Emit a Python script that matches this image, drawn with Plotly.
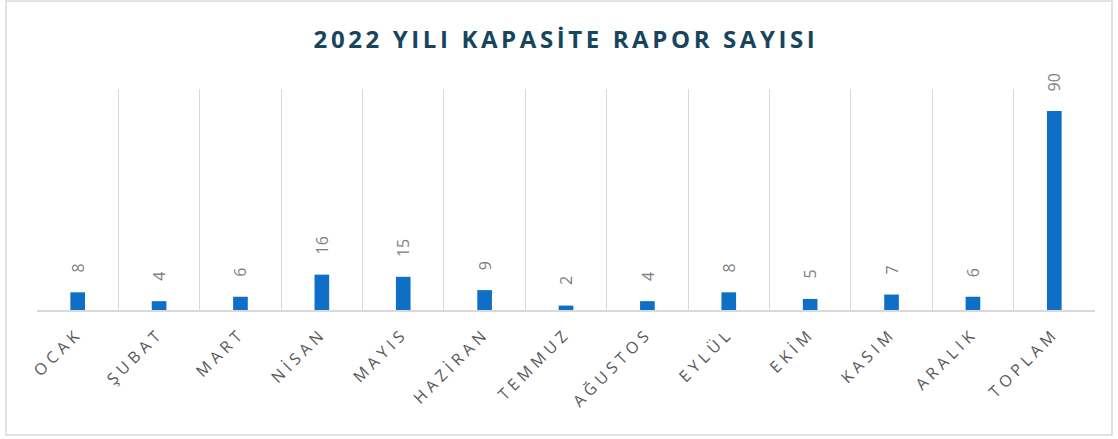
import plotly.graph_objects as go

months = ["OCAK", "ŞUBAT", "MART", "NİSAN", "MAYIS", "HAZİRAN", "TEMMUZ",
          "AĞUSTOS", "EYLÜL", "EKİM", "KASIM", "ARALIK", "TOPLAM"]
counts = [8, 4, 6, 16, 15, 9, 2, 4, 8, 5, 7, 6, 90]
title_text = "2022 YILI KAPASİTE RAPOR SAYISI"

W, H = 1118, 439
L, R, T, B = 37, 23, 89, 129
pw, ph = W - L - R, H - T - B

fig = go.Figure(go.Bar(
    x=months, y=counts, width=0.18,
    marker=dict(color="#0F6FC6", line=dict(width=0)),
    hoverinfo="x+y",
))

for m, c in zip(months, counts):
    fig.add_annotation(
        x=m, y=c, text=str(c), textangle=-90, showarrow=False,
        xanchor="center", yanchor="bottom", yshift=18,
        font=dict(family="Open Sans, sans-serif", size=16, color="#808080"),
    )


def px2paper_x(x):
    return (x - L) / pw


def px2paper_y(y):
    return (H - B - y) / ph


fig.update_layout(
    width=W, height=H,
    margin=dict(l=L, r=R, t=T, b=B, autoexpand=False),
    paper_bgcolor="white", plot_bgcolor="white",
    showlegend=False,
    title=dict(text="<b>" + title_text + "</b>", x=0.5, xref="paper", xanchor="center",
               y=1 - 40 / H, yanchor="middle",
               font=dict(family="Open Sans, sans-serif", size=24, color="#17455E")),
    xaxis=dict(type="category", tickson="boundaries", showgrid=True, automargin=False,
               gridcolor="#D9D9D9", gridwidth=1, showline=True, linecolor="#D9D9D9",
               linewidth=1.5, ticks="", tickangle=-45, ticklabelstandoff=6,
               tickfont=dict(family="Open Sans, sans-serif", size=16, color="#595959")),
    yaxis=dict(range=[0, 100], showgrid=False, zeroline=False, showticklabels=False,
               ticks="", automargin=False),
    shapes=[dict(type="rect", xref="paper", yref="paper",
                 x0=px2paper_x(6), x1=px2paper_x(1112),
                 y0=px2paper_y(435), y1=px2paper_y(1),
                 line=dict(color="#D9D9D9", width=1.5), fillcolor="rgba(0,0,0,0)")],
)

post = """
document.body.style.margin = '0';
document.body.style.overflow = 'hidden';
var gd = document.getElementById('{plot_id}');
function spacing() {
  gd.querySelectorAll('.gtitle').forEach(function(e){ e.style.letterSpacing = '3.6px'; });
  gd.querySelectorAll('.xtick text').forEach(function(e){ e.style.letterSpacing = '4.5px'; });
}
spacing();
gd.on('plotly_afterplot', spacing);
"""

fig.write_html("out.html", post_script=post, config={"displayModeBar": False})
